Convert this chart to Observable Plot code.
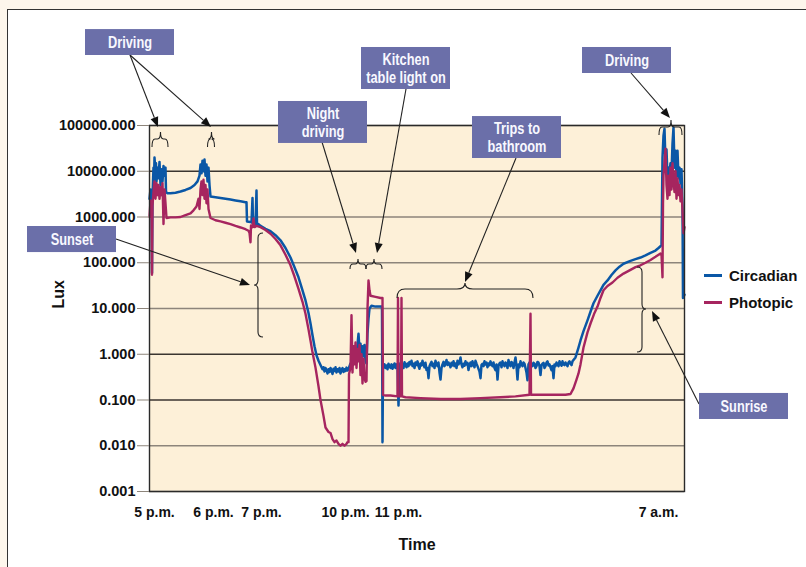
<!DOCTYPE html>
<html><head><meta charset="utf-8">
<script src="https://cdn.jsdelivr.net/npm/d3@7"></script>
<script src="https://cdn.jsdelivr.net/npm/@observablehq/plot@0.6"></script>
<style>
body{margin:0;background:#fdf6ec;font-family:"Liberation Sans",Arial,sans-serif;}
#wrap{position:relative;width:806px;height:567px;overflow:hidden;}
#sheet{position:absolute;left:7px;top:9px;width:830px;height:590px;background:#fff;border-left:1.5px solid #333;border-top:1.5px solid #333;}
#chart{position:absolute;left:0;top:0;}
#legend{position:absolute;left:704px;top:262px;font-weight:bold;font-size:15px;color:#111;}
#legend div{height:27px;display:flex;align-items:center;}
#legend span.sw{display:inline-block;width:18px;height:3px;margin-right:7px;}
</style></head>
<body><div id="wrap"><div id="sheet"></div><div id="chart"></div><div id="legend"></div></div>
<script>
// time axis: sample position t (0..1070) across the recording
const tickT = [10, 128, 224, 392, 498, 1018];
const tickLabels = ["5 p.m.", "6 p.m.", "7 p.m.", "10 p.m.", "11 p.m.", "7 a.m."];
const gridLux = [0.001, 0.01, 0.1, 1, 10, 100, 1000, 10000, 100000];
const seriesNames = ["Circadian", "Photopic"];
const seriesColors = ["#0a57a6", "#a6255f"];

// [t, lux]
const circadian = [[0,2500],[2,4000],[4,3000],[5,60],[6,2800],[8,12000],[9,6000],[10,20000],[12,9000],[13,15000],[14,6000],[16,12000],[18,7000],[20,16000],[22,5000],[24,11000],[26,6000],[28,13000],[30,8000],[32,12000],[33,3500],[36,3300],[42,3300],[52,3400],[62,3600],[72,3900],[82,4300],[90,5000],[96,6000],[100,8000],[102,14000],[104,9000],[106,17000],[108,10000],[110,18000],[112,8000],[114,14000],[116,6000],[118,12000],[120,5000],[122,2800],[132,2700],[142,2600],[152,2500],[162,2400],[172,2300],[182,2200],[192,2100],[194,2100],[195,800],[202,780],[204,760],[206,2600],[207,720],[212,700],[214,3800],[215,650],[218,700],[222,640],[232,550],[242,490],[252,400],[262,310],[272,210],[282,130],[290,80],[298,48],[306,25],[312,15],[318,8],[322,4.7],[326,2.6],[330,1.5],[334,0.95],[338,0.72],[342,0.58],[346,0.47],[348,0.52],[350,0.42],[352,0.5],[354,0.45],[356,0.38],[358,0.47],[360,0.41],[362,0.5],[364,0.44],[366,0.37],[368,0.48],[370,0.43],[372,0.52],[374,0.4],[376,0.47],[378,0.42],[380,0.5],[382,0.38],[384,0.46],[386,0.5],[388,0.41],[390,0.47],[392,0.43],[394,0.51],[396,0.44],[398,0.48],[400,0.55],[402,0.63],[404,0.5],[406,1.0],[408,0.7],[410,1.2],[412,1.4],[414,0.9],[416,1.6],[418,2.8],[420,1.2],[422,1.7],[424,0.8],[426,1.5],[428,0.9],[430,1.6],[432,0.7],[434,0.63],[436,2.9],[438,6],[440,10],[444,11.5],[452,11],[462,11],[465,11],[466,0.012],[467,0.52],[470,0.6],[472,0.5],[474,0.57],[476,0.47],[478,0.62],[480,0.55],[482,0.5],[484,0.6],[486,0.48],[488,0.56],[490,0.63],[492,0.5],[494,0.6],[496,0.58],[498,0.076],[500,0.55],[502,0.64],[504,0.52],[506,0.6],[508,0.5],[510,0.67],[512,0.58],[514,0.52],[516,0.63],[518,0.55],[520,0.68],[522,0.6],[524,0.72],[526,0.55],[528,0.62],[530,0.5],[532,0.66],[534,0.58],[536,0.7],[538,0.55],[540,0.48],[542,0.63],[544,0.57],[546,0.72],[548,0.6],[550,0.52],[552,0.65],[554,0.45],[556,0.5],[558,0.3],[560,0.55],[562,0.62],[564,0.68],[566,0.55],[568,0.62],[570,0.5],[572,0.72],[574,0.6],[576,0.55],[578,0.66],[580,0.4],[582,0.28],[584,0.5],[586,0.6],[588,0.68],[590,0.55],[592,0.62],[594,0.75],[596,0.58],[598,0.66],[600,0.6],[602,0.52],[604,0.65],[606,0.57],[608,0.7],[610,0.55],[612,0.63],[614,0.5],[616,0.72],[618,0.6],[620,0.66],[622,0.85],[624,0.6],[626,0.52],[628,0.62],[630,0.56],[632,0.7],[634,0.6],[636,0.65],[638,0.45],[640,0.58],[642,0.66],[644,0.55],[646,0.7],[648,0.6],[650,0.52],[652,0.72],[654,0.62],[656,0.55],[658,0.48],[660,0.42],[662,0.3],[664,0.58],[666,0.62],[668,0.55],[670,0.7],[672,0.6],[674,0.66],[676,0.52],[678,0.63],[680,0.58],[682,0.7],[684,0.6],[686,0.55],[688,0.66],[690,0.5],[692,0.45],[694,0.6],[696,0.28],[698,0.55],[700,0.63],[702,0.66],[704,0.52],[706,0.7],[708,0.6],[710,0.55],[712,0.66],[714,0.62],[716,0.5],[718,0.75],[720,0.6],[722,0.55],[724,0.68],[726,0.62],[728,0.5],[730,0.66],[732,0.85],[734,0.55],[736,0.28],[738,0.6],[740,0.52],[742,0.7],[744,0.6],[746,0.55],[748,0.66],[750,0.62],[752,0.5],[754,0.4],[756,0.27],[758,0.6],[760,0.66],[762,0.7],[764,0.58],[766,0.55],[768,0.65],[770,0.62],[772,0.5],[774,0.55],[776,0.68],[778,0.66],[780,0.55],[782,0.35],[784,0.58],[786,0.62],[788,0.65],[790,0.5],[792,0.55],[794,0.66],[796,0.7],[798,0.57],[800,0.6],[802,0.52],[804,0.45],[806,0.55],[808,0.3],[810,0.6],[812,0.55],[814,0.66],[816,0.6],[818,0.55],[820,0.7],[822,0.62],[824,0.56],[826,0.7],[828,0.6],[830,0.58],[832,0.66],[834,0.6],[836,0.55],[838,0.66],[840,0.7],[842,0.62],[844,0.58],[846,0.7],[848,0.75],[852,0.85],[858,1.4],[862,2],[868,3.2],[876,5.5],[882,8.5],[888,13],[896,19],[902,25],[908,33],[916,41],[924,54],[932,68],[940,82],[948,95],[962,110],[972,120],[982,130],[992,145],[1002,165],[1012,185],[1018,210],[1022,230],[1024,245],[1026,20000],[1028,60000],[1030,85000],[1032,15000],[1034,30000],[1036,7300],[1038,12000],[1040,9000],[1042,15000],[1044,9000],[1046,40000],[1048,90000],[1050,12000],[1052,28000],[1054,8000],[1056,28000],[1058,7000],[1060,12000],[1062,5400],[1064,11000],[1066,1600],[1067,17],[1070,20]];

const photopic = [[0,1000],[2,2300],[4,1500],[5,55],[6,1800],[8,3500],[10,6000],[12,2500],[14,5500],[16,3000],[18,5000],[20,2500],[22,4500],[24,3000],[26,5500],[28,700],[30,4000],[32,2000],[34,950],[42,980],[52,980],[62,1000],[72,1100],[82,1200],[88,1400],[94,1700],[98,2500],[100,1500],[102,4000],[104,6000],[106,3000],[108,6500],[110,2500],[112,5000],[114,2000],[116,4000],[118,1500],[122,950],[132,850],[142,800],[152,750],[162,700],[172,640],[182,590],[192,540],[198,500],[200,450],[202,280],[203,650],[206,600],[208,930],[210,600],[214,640],[222,600],[232,520],[242,430],[252,330],[262,240],[272,150],[282,88],[290,50],[298,27],[306,14],[312,7.7],[318,3.5],[322,2.0],[326,1.1],[332,0.51],[338,0.2],[342,0.1],[348,0.045],[352,0.025],[358,0.02],[362,0.019],[366,0.014],[370,0.012],[374,0.013],[378,0.011],[382,0.01],[386,0.011],[390,0.01],[394,0.011],[396,0.012],[398,0.012],[399,0.37],[402,0.5],[404,7.1],[406,0.4],[408,1.5],[410,0.6],[412,1.8],[414,0.5],[416,1.3],[418,0.7],[420,1.6],[422,0.35],[424,1.0],[426,0.23],[428,0.8],[430,0.3],[432,0.25],[434,0.26],[436,10],[438,41],[440,25],[442,19],[452,18],[462,17],[466,17],[467,0.13],[472,0.125],[482,0.125],[496,0.12],[497,17],[498,0.12],[503,0.12],[504,17],[505,0.12],[512,0.115],[542,0.11],[582,0.105],[622,0.105],[662,0.11],[702,0.115],[732,0.12],[760,0.13],[762,7.7],[763,0.13],[782,0.13],[812,0.13],[832,0.13],[842,0.135],[848,0.18],[854,0.28],[858,0.38],[862,0.6],[868,1.4],[876,3],[882,4.7],[890,8],[896,11],[902,17],[908,25],[916,31],[926,37],[936,47],[948,58],[962,70],[972,80],[982,88],[992,100],[1002,115],[1012,135],[1022,160],[1024,150],[1026,48],[1027,2000],[1028,8000],[1032,31000],[1034,5000],[1036,2500],[1038,8000],[1040,3000],[1042,12000],[1044,4000],[1046,15000],[1048,6000],[1050,3500],[1052,10000],[1054,2500],[1056,7000],[1058,3000],[1060,5000],[1062,2200],[1064,4000],[1066,1400],[1068,440],[1070,600]];

// annotation boxes (data coordinates)
const boxText = ["Driving", "Kitchen\ntable light on", "Night\ndriving", "Trips to\nbathroom", "Driving", "Sunset", "Sunrise"];
const boxT = [[-128, 50], [424, 602], [258, 436], [646, 824], [866, 1044], [-244, -66], [1100, 1278]];
const boxLux = [[3.39e6, 1.25e7], [6.12e5, 5.07e6], [4.05e4, 3.35e5], [1.9e4, 1.57e5], [1.37e6, 5.07e6], [167, 620], [0.0375, 0.139]];

// arrows: [t from, lux from, t to, lux to]
const arrows = [[-38, 3.39e6, 18, 9.04e4], [-38, 3.39e6, 124, 9.04e4], [514, 6.12e5, 456, 159], [346, 4.25e4, 414, 159], [734, 1.9e4, 632, 37], [964, 1.37e6, 1042, 1.42e5], [-66, 322, 202, 31.8], [1100, 0.0798, 1006, 8.59]];

// horizontal braces: [t1, t2, tip t, lux, kind]
const hBraces = [[6, 38, 23, 4.94e4, "small"], [117, 131, 125, 4.94e4, "small"], [402, 434, 418, 91.6, "tiny"], [434, 466, 450, 91.6, "tiny"], [496, 768, 632, 26, "large"], [1020, 1066, 1044, 9.04e4, "small"]];
// vertical braces: [t, lux top, lux bottom, tip lux, side]
const vBraces = [[218, 435, 2.32, 31.8, -1], [986, 78.7, 1.09, 9.5, 1]];

const braceShape = {tiny: {T: 5, L: 5, r: 3}, small: {T: 7, L: 8, r: 3}, large: {T: 6, L: 9, r: 8}, vert: {T: 4, L: 5, r: 5}};

const lines = [circadian, photopic].map((s, k) => s.map(([t, lux]) => ({t, lux, series: seriesNames[k]})));
const boxes = boxText.map((text, i) => ({text, t1: boxT[i][0], t2: boxT[i][1], y1: boxLux[i][0], y2: boxLux[i][1],
  tc: (boxT[i][0] + boxT[i][1]) / 2, yc: Math.sqrt(boxLux[i][0] * boxLux[i][1])}));

function braceMark(index, scales) {
  const sx = scales.x, sy = scales.y;
  const g = d3.create("svg:g").attr("fill", "none").attr("stroke", "#222").attr("stroke-width", 1.1);
  for (const [t1, t2, tm, lux, kind] of hBraces) {
    const {T, L, r} = braceShape[kind];
    const x1 = sx(t1), x2 = sx(t2), xm = sx(tm), y = sy(lux);
    g.append("path").attr("d", `M${x1},${y + L}Q${x1},${y} ${x1 + r},${y}L${xm - r},${y}Q${xm},${y} ${xm},${y - T}Q${xm},${y} ${xm + r},${y}L${x2 - r},${y}Q${x2},${y} ${x2},${y + L}`);
  }
  for (const [t, top, bot, tip, s] of vBraces) {
    const {T, L, r} = braceShape.vert;
    const x = sx(t), y1 = sy(top), y2 = sy(bot), ym = sy(tip);
    g.append("path").attr("d", `M${x - s * L},${y1}Q${x},${y1} ${x},${y1 + r}L${x},${ym - r}Q${x},${ym} ${x + s * T},${ym}Q${x},${ym} ${x},${ym + r}L${x},${y2 - r}Q${x},${y2} ${x - s * L},${y2}`);
  }
  return g.node();
}

function arrowMark(index, scales) {
  const sx = scales.x, sy = scales.y;
  const g = d3.create("svg:g");
  for (const [ta, la, tb, lb] of arrows) {
    const x1 = sx(ta), y1 = sy(la), x2 = sx(tb), y2 = sy(lb);
    const a = Math.atan2(y2 - y1, x2 - x1), h = 10, w = 4;
    const bx = x2 - h * Math.cos(a), by = y2 - h * Math.sin(a);
    g.append("line").attr("x1", x1).attr("y1", y1).attr("x2", bx).attr("y2", by).attr("stroke", "#222").attr("stroke-width", 1.1);
    g.append("path").attr("fill", "#111").attr("d",
      `M${x2},${y2}L${bx + w * Math.sin(a)},${by - w * Math.cos(a)}L${bx - w * Math.sin(a)},${by + w * Math.cos(a)}Z`);
  }
  return g.node();
}

const plot = Plot.plot({
  width: 806, height: 567,
  marginLeft: 149, marginRight: 122, marginTop: 125, marginBottom: 76,
  style: {background: "transparent", fontFamily: "'Liberation Sans', Arial, sans-serif", fontWeight: "bold", fontSize: "14px", color: "#111", overflow: "visible"},
  x: {domain: [0, 1070]},
  y: {type: "log", domain: [0.001, 100000]},
  marks: [
    Plot.frame({fill: "#fdf0d8", stroke: null}),
    Plot.ruleY(gridLux, {stroke: d => (d === 10000 || d === 1 || d === 0.1) ? "#3a3530" : "#8d857b", strokeWidth: 1.4}),
    Plot.line(lines[0], {x: "t", y: "lux", stroke: seriesColors[0], strokeWidth: 2.5, strokeLinejoin: "round"}),
    Plot.line(lines[1], {x: "t", y: "lux", stroke: seriesColors[1], strokeWidth: 2.4, strokeLinejoin: "round"}),
    Plot.frame({stroke: "#2a2a2a", strokeWidth: 1.4}),
    Plot.axisY({ticks: gridLux, tickFormat: d3.format(".3f"), tickSize: 12, tickPadding: 2, label: null, stroke: "#8d857b", fontSize: 14.5, fontWeight: "bold"}),
    Plot.axisX({ticks: tickT, tickFormat: d => tickLabels[tickT.indexOf(d)], tickSize: 0, tickPadding: 16, label: null, fontSize: 14, fontWeight: "bold"}),
    Plot.text(["Time"], {frameAnchor: "bottom", dy: 58, fontSize: 16, fontWeight: "bold"}),
    Plot.text(["Lux"], {frameAnchor: "left", dx: -91, rotate: -90, fontSize: 16, fontWeight: "bold"}),
    braceMark,
    arrowMark,
    Plot.rect(boxes, {x1: "t1", x2: "t2", y1: "y1", y2: "y2", fill: "#6b6fa9"}),
    Plot.text(boxes, {x: "tc", y: "yc", text: "text", fill: "#f8f8ff", fontSize: 16, fontWeight: "bold", lineHeight: 1.08,
      fontFamily: "'Liberation Sans', Arial, sans-serif", className: "boxlabel"})
  ]
});
document.getElementById("chart").appendChild(plot);

// condense the annotation labels horizontally (no narrow font installed)
let labelGroup = d3.select(plot).select("g.boxlabel");
if (labelGroup.empty()) labelGroup = d3.select(plot).selectAll("g[aria-label='text']").filter((d, i, n) => i === n.length - 1);
labelGroup.selectAll("text").attr("transform", function () {
  const t = this.getAttribute("transform") || "";
  return t + " scale(0.8,1)";
});

const legend = d3.select("#legend");
seriesNames.forEach((n, i) => {
  const row = legend.append("div");
  row.append("span").attr("class", "sw").style("background", seriesColors[i]);
  row.append("span").text(n);
});
</script></body></html>
